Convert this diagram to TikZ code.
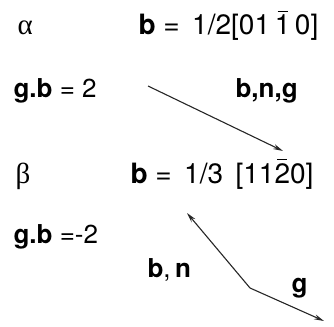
\documentclass[tikz,border=0pt]{standalone}
\usepackage{fontspec}
\setmainfont{TeX Gyre Heros}
\newfontfamily\grk{Liberation Serif}
\usetikzlibrary{arrows.meta}
\newcommand{\ob}[1]{\leavevmode\hbox{\rlap{\hspace{0.1em}\rule[0.82em]{0.36em}{1.3pt}}#1}}

\begin{document}
\begin{tikzpicture}[x=1pt, y=-1pt,
  >={Stealth[length=10pt,width=5pt]}, line width=1.1pt,
  lbl/.style={anchor=base west, inner sep=0pt, font=\fontsize{26}{30}\selectfont},
  head/.style={anchor=base west, inner sep=0pt, font=\fontsize{28}{32}\selectfont},
  phase/.style={anchor=base west, inner sep=0pt, font=\fontsize{29}{32}\grk},
  vec/.style={draw=black!85, ->}]
\useasboundingbox (0,0) rectangle (334,326);
% alpha phase
\node[phase] (alpha) at (17,35) {α};
\node[head] (balpha) at (138,35) {\textbf{b} =\, 1/2[01\,\ob{1}\,0]};
\node[lbl] (gbpos) at (13,97) {\textbf{g.b} = 2};
\node[lbl] (bng) at (235,97) {\textbf{b,n,g}};
\coordinate (a1) at (148,86);
\coordinate (a2) at (283,151);
\draw[vec] (a1) -- (a2);
% beta phase
\node[phase] (beta) at (15,183) {β};
\node[head] (bbeta) at (130,183) {\textbf{b} =\, 1/3\, [11\ob{2}0]};
\node[lbl] (gbneg) at (13,243) {\textbf{g.b} =-2};
\node[lbl] (bn) at (147,277) {\textbf{b},\,\textbf{n}};
\node[lbl] (g) at (291,292) {\textbf{g}};
\coordinate (bend) at (250,288);
\coordinate (bn2) at (187,213);
\coordinate (g2) at (324,321);
\draw[vec] (bend) -- (bn2);
\draw[vec] (bend) -- (g2);
\end{tikzpicture}
\end{document}
